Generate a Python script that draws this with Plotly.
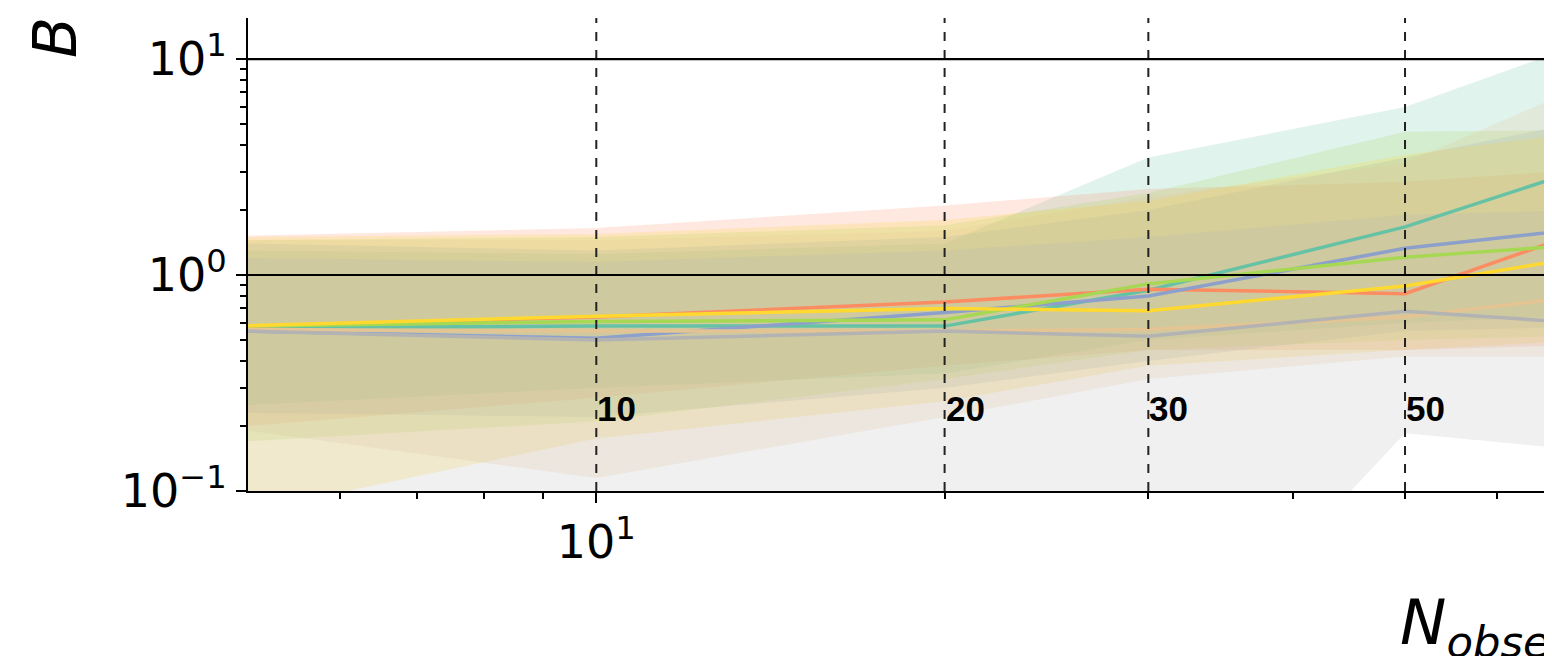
import math
import plotly.graph_objects as go

# ---- data ----
n_obs = [5, 10, 20, 30, 50, 100]

series_names = ["s1", "s2", "s3", "s4", "s5", "s6", "s7"]
series_colors = ["#66c2a5", "#fc8d62", "#8da0cb", "#a6d854", "#ffd92f", "#e5c494", "#b3b3b3"]

mean_teal   = [0.57, 0.58, 0.58, 0.85, 1.67, 5.6]
mean_orange = [0.58, 0.64, 0.75, 0.86, 0.82, 3.0]
mean_blue   = [0.55, 0.51, 0.67, 0.80, 1.33, 2.0]
mean_green  = [0.58, 0.61, 0.62, 0.91, 1.21, 1.57]
mean_yellow = [0.583, 0.645, 0.70, 0.684, 0.89, 1.63]
mean_tan    = [0.56, 0.55, 0.55, 0.56, 0.64, 0.99]
mean_gray   = [0.55, 0.50, 0.55, 0.52, 0.68, 0.53]

upper_teal   = [1.3, 1.25, 1.4, 3.5, 6.0, 22.6]
upper_orange = [1.52, 1.65, 2.1, 2.5, 2.7, 3.5]
upper_blue   = [1.4, 1.3, 1.5, 2.0, 3.5, 7.4]
upper_green  = [1.45, 1.5, 1.7, 2.4, 4.6, 4.8]
upper_yellow = [1.5, 1.55, 1.8, 2.2, 3.6, 5.8]
upper_tan    = [1.45, 1.45, 1.6, 2.3, 3.3, 16.5]
upper_gray   = [1.2, 1.15, 1.3, 1.5, 1.9, 2.1]

lower_teal   = [0.25, 0.30, 0.35, 0.50, 0.60, 0.70]
lower_orange = [0.20, 0.27, 0.38, 0.45, 0.45, 0.50]
lower_blue   = [0.23, 0.22, 0.30, 0.40, 0.55, 0.60]
lower_green  = [0.17, 0.21, 0.33, 0.45, 0.50, 0.55]
lower_yellow = [0.08, 0.175, 0.26, 0.38, 0.45, 0.55]
lower_tan    = [0.19, 0.115, 0.22, 0.33, 0.42, 0.42]
lower_gray   = [0.03, 0.05, 0.02, 0.01, 0.185, 0.13]

means = [mean_teal, mean_orange, mean_blue, mean_green, mean_yellow, mean_tan, mean_gray]
uppers = [upper_teal, upper_orange, upper_blue, upper_green, upper_yellow, upper_tan, upper_gray]
lowers = [lower_teal, lower_orange, lower_blue, lower_green, lower_yellow, lower_tan, lower_gray]

ref_x = [10, 20, 30, 50]
ref_labels = ["10", "20", "30", "50"]
ref_label_y = 0.24
h_lines = [1, 10]

x_tickvals = [10]
x_ticktext = ["10<sup>1</sup>"]
y_tickvals = [0.1, 1, 10]
y_ticktext = ["10<sup>\u22121</sup>", "10<sup>0</sup>", "10<sup>1</sup>"]


def rgba(hex_color, a):
    h = hex_color.lstrip("#")
    r, g, b = int(h[0:2], 16), int(h[2:4], 16), int(h[4:6], 16)
    return f"rgba({r},{g},{b},{a})"


fig = go.Figure()

# bands
for name, col, up, lo in zip(series_names, series_colors, uppers, lowers):
    fig.add_trace(go.Scatter(
        x=n_obs + n_obs[::-1], y=up + lo[::-1],
        fill="toself", fillcolor=rgba(col, 0.2), line=dict(width=0),
        mode="lines", hoverinfo="skip", showlegend=False))

# lines
for name, col, m in zip(series_names, series_colors, means):
    fig.add_trace(go.Scatter(x=n_obs, y=m, mode="lines", name=name,
                             line=dict(color=col, width=3.5), showlegend=False))

for xv in ref_x:
    fig.add_vline(x=xv, line=dict(color="#222222", width=2, dash="dash"))
for yv in h_lines:
    fig.add_hline(y=yv, line=dict(color="black", width=2.2))

for xv, lab in zip(ref_x, ref_labels):
    fig.add_annotation(x=math.log10(xv), y=math.log10(ref_label_y),
                       text="<b>" + lab + "</b>", showarrow=False, xanchor="left", yanchor="middle", xshift=-1,
                       font=dict(family="Liberation Sans, Arial, DejaVu Sans", size=35, color="black"))

fig.add_annotation(xref="paper", yref="paper", x=(55 - 248) / 1304, y=(491 - 38) / 473, text="<i>B</i>",
                   showarrow=False, textangle=-90, xanchor="center", yanchor="middle",
                   font=dict(family="DejaVu Sans", size=60, color="black"))
fig.add_annotation(xref="paper", yref="paper", x=(1398 - 248) / 1304, y=(491 - 626) / 473,
                   text="<i>N</i><sub><i>observations</i></sub>",
                   showarrow=False, xanchor="left", yanchor="middle",
                   font=dict(family="DejaVu Sans", size=62, color="black"))

fig.update_xaxes(type="log", range=[0.69897, 1.826], showgrid=False, zeroline=False,
                 showline=True, linecolor="black", linewidth=2,
                 ticks="outside", ticklen=10, tickwidth=2, tickcolor="black",
                 tickvals=x_tickvals, ticktext=x_ticktext,
                 minor=dict(ticks="outside", ticklen=6, tickwidth=1.5, tickcolor="black",
                            tickvals=[6, 7, 8, 9, 20, 30, 40, 50, 60], showgrid=False),
                 tickfont=dict(family="DejaVu Sans", size=46, color="black"))
fig.update_yaxes(type="log", range=[-1, 1.19], showgrid=False, zeroline=False,
                 showline=True, linecolor="black", linewidth=2,
                 ticks="outside", ticklen=10, tickwidth=2, tickcolor="black",
                 tickvals=y_tickvals, ticktext=y_ticktext,
                 minor=dict(ticks="outside", ticklen=6, tickwidth=1.5, tickcolor="black",
                            tickvals=[0.2, 0.3, 0.4, 0.5, 0.6, 0.7, 0.8, 0.9,
                                      2, 3, 4, 5, 6, 7, 8, 9], showgrid=False),
                 tickfont=dict(family="DejaVu Sans", size=46, color="black"))

# the page body has an 8px margin, so the figure is 8px smaller and offset
fig.update_layout(width=1544, height=648, margin=dict(l=240, r=0, t=10, b=165),
                  plot_bgcolor="white", paper_bgcolor="white", showlegend=False)

fig.write_html("out.html")
